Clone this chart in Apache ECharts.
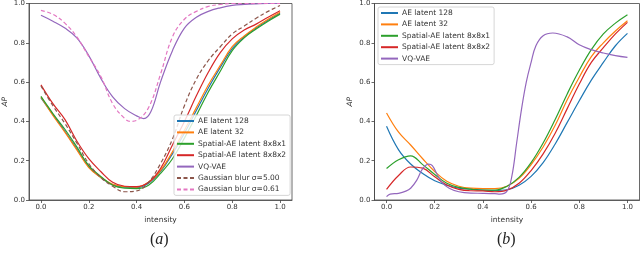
<!DOCTYPE html>
<html>
<head>
<meta charset="utf-8">
<script src="https://cdn.jsdelivr.net/npm/echarts@6/dist/echarts.min.js"></script>
<style>
html,body{margin:0;padding:0;background:#fff;}
#chart{width:640px;height:254px;}
</style>
</head>
<body>
<div id="chart"></div>
<script>
// ---- data ----
const names = ['AE latent 128','AE latent 32','Spatial-AE latent 8x8x1','Spatial-AE latent 8x8x2','VQ-VAE','Gaussian blur σ=5.00','Gaussian blur σ=0.61'];
const xTicks = [0,0.2,0.4,0.6,0.8,1.0];
const gridX = [0,0.05,0.1,0.15,0.2,0.25,0.3,0.35,0.4,0.45,0.5,0.55,0.6,0.65,0.7,0.75,0.8,0.85,0.9,0.95,1.0];

// panel (a)
const aAE128 = [0.52,0.435,0.35,0.26,0.17,0.115,0.078,0.065,0.063,0.085,0.145,0.235,0.34,0.455,0.57,0.675,0.77,0.83,0.875,0.915,0.95];
const aAE32  = [0.524,0.43,0.345,0.255,0.165,0.115,0.08,0.068,0.066,0.09,0.15,0.245,0.355,0.47,0.585,0.685,0.78,0.835,0.88,0.92,0.955];
const aSp1   = [0.527,0.44,0.36,0.27,0.175,0.12,0.075,0.06,0.058,0.075,0.135,0.21,0.315,0.43,0.55,0.655,0.76,0.825,0.87,0.91,0.946];
const aSp2   = [0.586,0.49,0.41,0.30,0.21,0.145,0.09,0.07,0.068,0.09,0.16,0.28,0.40,0.53,0.65,0.75,0.82,0.865,0.895,0.93,0.963];
const aBlur5 = [0.58,0.48,0.39,0.29,0.185,0.115,0.07,0.042,0.046,0.09,0.185,0.31,0.48,0.615,0.71,0.78,0.845,0.885,0.925,0.96,0.99];
const aBlur061X = [0,0.05,0.1,0.15,0.2,0.25,0.3,0.35,0.375,0.4,0.45,0.5,0.55,0.6,0.65,0.7,0.75,0.8,0.85,0.9,0.95,1.0];
const aBlur061  = [0.965,0.945,0.9,0.83,0.73,0.63,0.49,0.415,0.40,0.405,0.47,0.64,0.83,0.92,0.96,0.985,0.995,1.0,1.0,1.0,1.0,1.0];
const aVQX = [0,0.05,0.1,0.15,0.2,0.25,0.3,0.35,0.4,0.43,0.46,0.5,0.55,0.6,0.65,0.7,0.75,0.8,0.85,0.9,0.95,1.0];
const aVQ  = [0.94,0.91,0.875,0.825,0.735,0.62,0.525,0.465,0.428,0.414,0.45,0.60,0.76,0.875,0.93,0.96,0.978,0.99,0.995,0.998,1.0,1.0];

// panel (b)
const bAE128 = [0.375,0.255,0.183,0.135,0.098,0.076,0.06,0.055,0.051,0.048,0.052,0.075,0.12,0.19,0.285,0.395,0.505,0.61,0.70,0.785,0.848];
const bAE32  = [0.443,0.345,0.28,0.21,0.145,0.095,0.07,0.06,0.058,0.058,0.07,0.11,0.18,0.27,0.38,0.51,0.625,0.73,0.80,0.86,0.912];
const bSp1   = [0.16,0.205,0.225,0.18,0.13,0.085,0.064,0.055,0.05,0.05,0.07,0.115,0.19,0.29,0.41,0.54,0.66,0.765,0.845,0.9,0.943];
const bSp2   = [0.054,0.125,0.168,0.162,0.118,0.076,0.054,0.047,0.046,0.042,0.05,0.085,0.15,0.235,0.34,0.465,0.59,0.70,0.775,0.845,0.904];
const bVQX = [0,0.015,0.05,0.08,0.1,0.125,0.15,0.175,0.19,0.21,0.23,0.26,0.3,0.35,0.4,0.45,0.47,0.5,0.52,0.54,0.56,0.58,0.6,0.62,0.65,0.69,0.75,0.8,0.85,0.9,0.95,1.0];
const bVQ  = [0.017,0.03,0.034,0.045,0.06,0.10,0.16,0.183,0.175,0.13,0.09,0.06,0.042,0.035,0.034,0.032,0.03,0.045,0.12,0.29,0.46,0.60,0.70,0.785,0.836,0.85,0.83,0.79,0.765,0.748,0.735,0.726];

const colors = ['#1f77b4','#ff7f0e','#2ca02c','#d62728','#9467bd','#8c564b','#e377c2'];

function pairs(xs, ys){ return xs.map((x,i)=>[x, ys[i]]); }
function mk(name, idx, xs, ys, panel, dashed){
  return {
    type:'line', name:name, xAxisIndex:panel, yAxisIndex:panel,
    data: pairs(xs, ys), smooth:0.4, symbol:'none', showSymbol:false,
    lineStyle:{color:colors[idx], width:1.2, type: dashed ? [4,2.5] : 'solid'},
    itemStyle:{color:colors[idx]},
    emphasis:{disabled:true}, animation:false
  };
}

const font = 'DejaVu Sans';
function xAx(grid){
  return {
    type:'value', gridIndex:grid, min:-0.05, max:1.05,
    name:'intensity', nameLocation:'middle', nameGap:13,
    nameTextStyle:{fontFamily:font, fontSize:7.5, color:'#333'},
    axisLine:{show:true, onZero:false, lineStyle:{color:'#444', width:0.8}},
    axisTick:{show:true, length:3, customValues:xTicks, lineStyle:{color:'#444', width:0.8}},
    axisLabel:{customValues:xTicks, margin:4, fontFamily:font, fontSize:7, color:'#333', formatter:v=>v.toFixed(1)},
    splitLine:{show:false}
  };
}
function yAx(grid){
  return {
    type:'value', gridIndex:grid, min:0, max:1, interval:0.2,
    name:'AP', nameLocation:'middle', nameGap:20, nameRotate:90,
    nameTextStyle:{fontFamily:font, fontSize:7.5, color:'#333', fontStyle:'italic'},
    axisLine:{show:true, onZero:false, lineStyle:{color:'#444', width:0.8}},
    axisTick:{show:true, length:3, lineStyle:{color:'#444', width:0.8}},
    axisLabel:{margin:4, fontFamily:font, fontSize:7, color:'#333', formatter:v=>v.toFixed(1)},
    splitLine:{show:false}
  };
}
function legend(left, top, data){
  return {
    left:left, top:top, orient:'vertical', data:data,
    itemWidth:17, itemHeight:8, itemGap:3.4,
    padding:[2,4,2,2], borderColor:'#ccc', borderWidth:0.8, borderRadius:2,
    backgroundColor:'rgba(255,255,255,0.8)',
    itemStyle:{color:'rgba(0,0,0,0)', borderColor:'rgba(0,0,0,0)', borderWidth:0, opacity:0},
    textStyle:{fontFamily:font, fontSize:7.5, color:'#333', lineHeight:8, padding:[0,0,0,-1]},
    selectedMode:false
  };
}

const chart = echarts.init(document.getElementById('chart'), null, {renderer:'canvas'});
chart.setOption({
  backgroundColor:'#fff',
  animation:false,
  grid:[
    {left:26, right:348, top:2.5, bottom:54, show:true, borderColor:'#444', borderWidth:0.8, containLabel:false},
    {left:374.5, right:0.5, top:2.5, bottom:54, show:true, borderColor:'#444', borderWidth:0.8, containLabel:false}
  ],
  xAxis:[xAx(0), xAx(1)],
  yAxis:[yAx(0), yAx(1)],
  legend:[
    legend(174, 115, names),
    legend(378, 7, names.slice(0,5))
  ],
  series:[
    mk(names[0],0,gridX,aAE128,0,false),
    mk(names[1],1,gridX,aAE32,0,false),
    mk(names[2],2,gridX,aSp1,0,false),
    mk(names[3],3,gridX,aSp2,0,false),
    mk(names[4],4,aVQX,aVQ,0,false),
    mk(names[5],5,gridX,aBlur5,0,true),
    mk(names[6],6,aBlur061X,aBlur061,0,true),
    mk(names[0],0,gridX,bAE128,1,false),
    mk(names[1],1,gridX,bAE32,1,false),
    mk(names[2],2,gridX,bSp1,1,false),
    mk(names[3],3,gridX,bSp2,1,false),
    mk(names[4],4,bVQX,bVQ,1,false)
  ],
  graphic:[
    {type:'text', left:150, top:232, style:{text:'{p|(}{i|a}{p|)}', rich:{p:{fontFamily:'Liberation Serif', fontSize:16, fill:'#222'}, i:{fontFamily:'Liberation Serif', fontStyle:'italic', fontSize:16, fill:'#222'}}}},
    {type:'text', left:497, top:232, style:{text:'{p|(}{i|b}{p|)}', rich:{p:{fontFamily:'Liberation Serif', fontSize:16, fill:'#222'}, i:{fontFamily:'Liberation Serif', fontStyle:'italic', fontSize:16, fill:'#222'}}}}
  ]
});
</script>
</body>
</html>
